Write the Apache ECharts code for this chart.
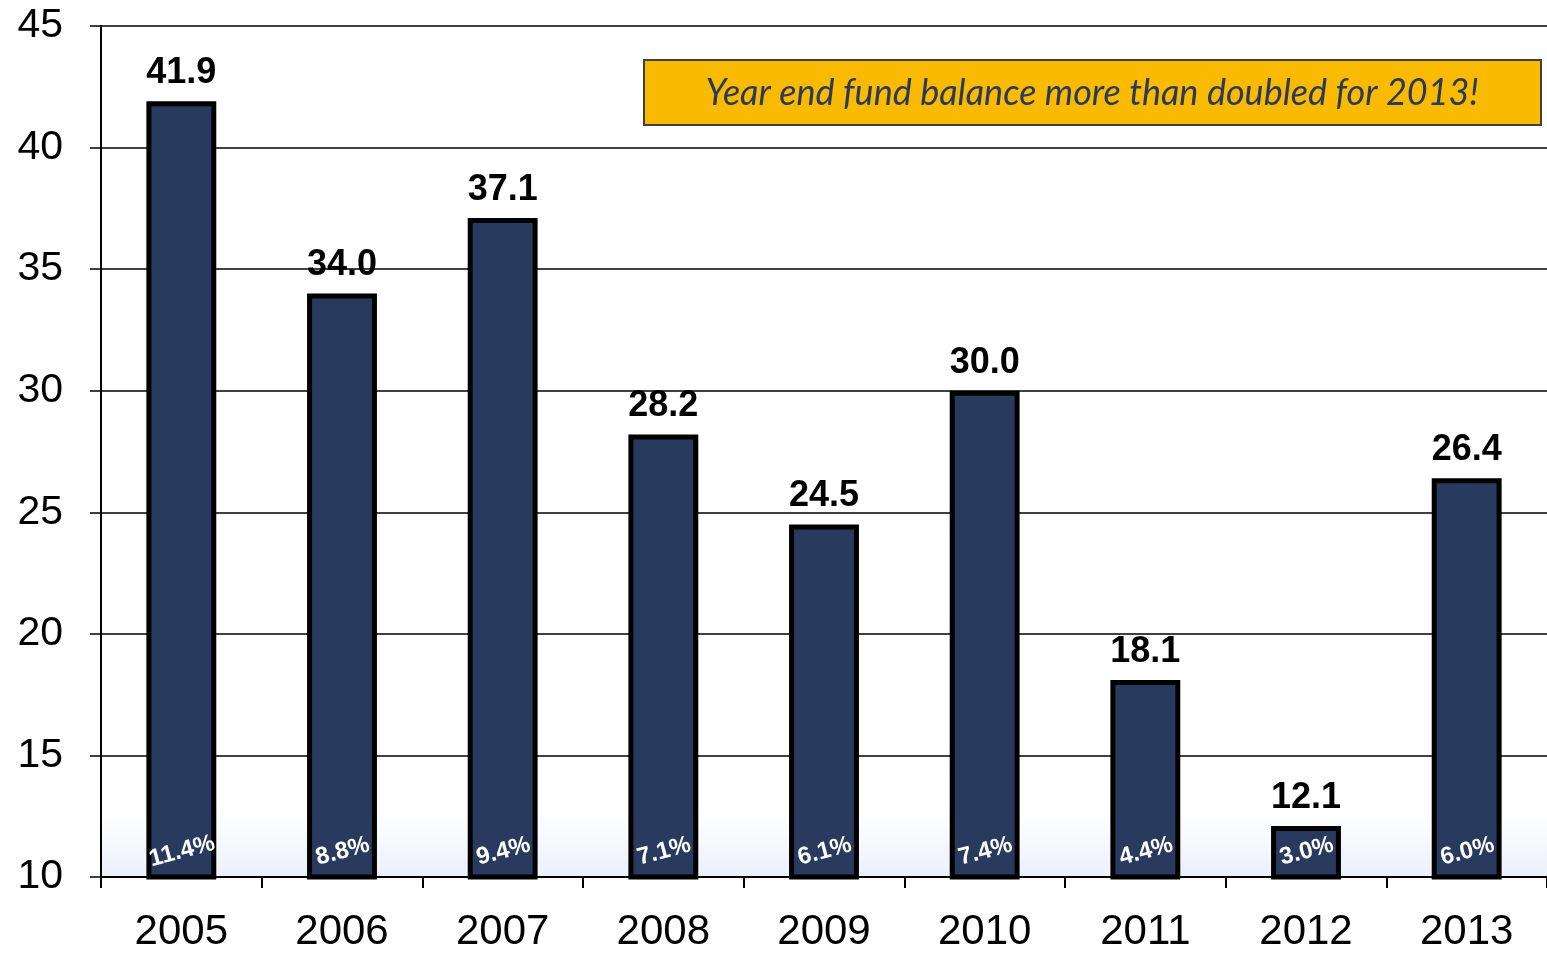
<!DOCTYPE html>
<html><head><meta charset="utf-8">
<script src="https://cdn.jsdelivr.net/npm/echarts@6/dist/echarts.min.js"></script>
<style>html,body{margin:0;padding:0;background:#fff}#c{width:1547px;height:953px}</style>
</head><body><div id="c"></div>
<script>
var years = ['2005','2006','2007','2008','2009','2010','2011','2012','2013'];
var balances = [41.9, 34.0, 37.1, 28.2, 24.5, 30.0, 18.1, 12.1, 26.4];
var percents = ['11.4%','8.8%','9.4%','7.1%','6.1%','7.4%','4.4%','3.0%','6.0%'];
var note = 'Year end fund balance more than doubled for 2013!';

var chart = echarts.init(document.getElementById('c'));
chart.setOption({
  animation: false,
  grid: {left: 101, right: -5, top: 26, bottom: 71, show: true, borderWidth: 0,
    backgroundColor: {type:'linear', x:0, y:0, x2:0, y2:1, colorStops:[
      {offset:0, color:'#ffffff'}, {offset:0.925, color:'#ffffff'}, {offset:1, color:'#eaf0fa'}]}},
  xAxis: {
    type: 'category', data: years,
    axisLine: {lineStyle: {color: '#000', width: 2}},
    axisTick: {show: true, length: 11, lineStyle: {color: '#000', width: 2}},
    axisLabel: {color: '#000', fontFamily: 'Liberation Sans, Arial', fontSize: 42, margin: 34}
  },
  yAxis: {
    type: 'value', min: 10, max: 45, interval: 5,
    axisLine: {show: true, lineStyle: {color: '#000', width: 2}},
    axisTick: {show: true, length: 11, lineStyle: {color: '#000', width: 1.5}},
    axisLabel: {color: '#000', fontFamily: 'Liberation Sans, Arial', fontSize: 41, margin: 38},
    splitLine: {lineStyle: {color: '#000', width: 1.5}}
  },
  series: [{
    type: 'bar', data: balances, barWidth: '43.5%',
    itemStyle: {color: '#283a5e', borderColor: '#000', borderWidth: 5},
    label: {show: true, position: 'top', distance: 10, color: '#000',
      fontFamily: 'Liberation Sans, Arial', fontWeight: 'bold', fontSize: 36,
      formatter: function(p){ return p.value.toFixed(1); }}
  }, {
    type: 'bar', data: balances, barWidth: '43.5%', barGap: '-100%',
    itemStyle: {color: 'transparent'}, silent: true,
    label: {show: true, position: 'insideBottom', distance: 13, rotate: 15, offset: [4, 0],
      color: '#fff', fontFamily: 'Liberation Sans, Arial', fontWeight: 'bold', fontSize: 24,
      formatter: function(p){ return percents[p.dataIndex]; }}
  }],
  graphic: [{
    type: 'group', left: 643, top: 59,
    children: [{
      type: 'rect', shape: {x: 0, y: 0, width: 897, height: 65},
      style: {fill: '#f9ba00', stroke: '#404040', lineWidth: 2}
    }, {
      type: 'text', x: 448, y: 33,
      style: {text: note, fill: '#2b3a5c', font: 'italic 36px Lato, "Open Sans", sans-serif',
        textAlign: 'center', textVerticalAlign: 'middle'}
    }]
  }]
});
</script></body></html>
